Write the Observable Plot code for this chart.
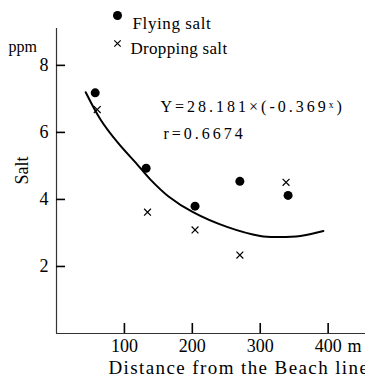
<!DOCTYPE html>
<html>
<head>
<meta charset="utf-8">
<script src="https://cdn.jsdelivr.net/npm/d3@7"></script>
<script src="https://cdn.jsdelivr.net/npm/@observablehq/plot@0.6"></script>
<style>
  html, body { margin: 0; padding: 0; background: #fff; }
  svg { font-family: "Liberation Serif", "DejaVu Serif", serif; }
</style>
</head>
<body>
<div id="chart"></div>
<script>
// Flying salt (dots)
const flyingDist = [57, 132, 204, 270, 341];
const flyingSalt = [7.18, 4.93, 3.80, 4.54, 4.12];
// Dropping salt (crosses)
const droppingDist = [60, 134, 204, 270, 338];
const droppingSalt = [6.68, 3.62, 3.09, 2.34, 4.51];
// Fitted curve
const curveDist = [43, 65, 90, 119, 138, 165, 201, 251, 300, 325, 359, 393];
const curveSalt = [7.2, 6.38, 5.70, 5.04, 4.60, 4.09, 3.62, 3.18, 2.91, 2.88, 2.91, 3.06];
const xTicks = [100, 200, 300, 400];
const yTicks = [2, 4, 6, 8];

const flying = flyingDist.map((d, i) => ({x: d, y: flyingSalt[i]}));
const dropping = droppingDist.map((d, i) => ({x: d, y: droppingSalt[i]}));
const curve = curveDist.map((d, i) => ({x: d, y: curveSalt[i]}));

const chart = Plot.plot({
  width: 365,
  height: 384,
  marginLeft: 56,
  marginRight: 0,
  marginTop: 28,
  marginBottom: 51,
  style: {fontFamily: "'Liberation Serif', 'DejaVu Serif', serif", fontSize: "17px", color: "#000"},
  x: {domain: [0, 455], ticks: xTicks, label: null, axis: null},
  y: {domain: [0, 9.1], ticks: yTicks, label: null, axis: null},
  marks: [
    // tick labels
    Plot.text(xTicks, {x: d => d, frameAnchor: "bottom", dy: 18, text: d => String(d), fontSize: 18, fill: "#000"}),
    Plot.text(yTicks, {y: d => d, frameAnchor: "left", dx: -8, textAnchor: "end", text: d => String(d), fontSize: 18, fill: "#000"}),
    Plot.ruleX([0], {stroke: "#333", strokeWidth: 1.2}),
    Plot.ruleY([0], {stroke: "#333", strokeWidth: 1.2}),
    // inward tick marks
    Plot.tickX(xTicks, {x: d => d, stroke: "#000", strokeWidth: 1.6, insetTop: 295}),
    Plot.tickY(yTicks, {y: d => d, stroke: "#000", strokeWidth: 1.6, insetRight: 300}),
    Plot.line(curve, {x: "x", y: "y", curve: "catmull-rom", stroke: "#000", strokeWidth: 2}),
    Plot.dot(flying, {x: "x", y: "y", r: 4.5, fill: "#000", stroke: "none"}),
    Plot.dot(dropping, {x: "x", y: "y", r: 3.2, symbol: "times", stroke: "#000", strokeWidth: 1.2}),
    // legend
    Plot.dot([0], {frameAnchor: "top-left", dx: 61, dy: -13, r: 4.5, fill: "#000", stroke: "none"}),
    Plot.text(["Flying salt"], {frameAnchor: "top-left", textAnchor: "start", dx: 76, dy: -12, fontSize: 17, fill: "#000"}),
    Plot.dot([0], {frameAnchor: "top-left", dx: 61, dy: 15, r: 3, symbol: "times", stroke: "#000", strokeWidth: 1.2}),
    Plot.text(["Dropping salt"], {frameAnchor: "top-left", textAnchor: "start", dx: 74, dy: 13, fontSize: 17, fill: "#000"}),
    // equation
    Plot.text(["Y=28.181×(-0.369ˣ)"], {frameAnchor: "top-left", textAnchor: "start", dx: 104, dy: 72, fontSize: 16, fill: "#000"}),
    Plot.text(["r=0.6674"], {frameAnchor: "top-left", textAnchor: "start", dx: 107, dy: 99, fontSize: 16, fill: "#000"}),
    // axis titles
    Plot.text(["ppm"], {frameAnchor: "top-left", textAnchor: "start", dx: -48, dy: 12, fontSize: 16, fill: "#000"}),
    Plot.text(["Salt"], {frameAnchor: "top-left", textAnchor: "middle", dx: -41, dy: 142, rotate: -90, fontSize: 18, fill: "#000"}),
    Plot.text(["m"], {frameAnchor: "bottom-left", textAnchor: "start", dx: 291, dy: 18, fontSize: 18, fill: "#000"}),
    Plot.text(["Distance from the Beach line"], {frameAnchor: "bottom-left", textAnchor: "start", dx: 52, dy: 40, fontSize: 19, fill: "#000"})
  ]
});
// letter spacing to mimic the wide typesetting of the original
const spacing = {"Y=28.181×(-0.369ˣ)": 3, "r=0.6674": 3, "Distance from the Beach line": 1.4, "Flying salt": 0.6, "Dropping salt": 0.3};
d3.select(chart).selectAll("text").each(function () {
  const t = this.textContent;
  if (spacing[t] != null) this.style.letterSpacing = spacing[t] + "px";
});
document.getElementById("chart").appendChild(chart);
</script>
</body>
</html>
